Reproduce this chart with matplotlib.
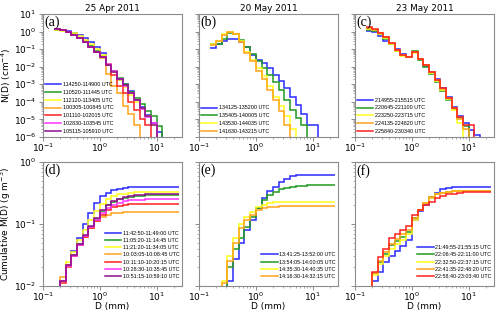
import numpy as np
import matplotlib
matplotlib.use("Agg")
import matplotlib.pyplot as plt
from matplotlib.ticker import LogLocator, NullFormatter
from matplotlib import font_manager

# ---------------- data ----------------
edges = [0.158, 0.2, 0.251, 0.316, 0.398, 0.501, 0.631, 0.794, 1.0, 1.26, 1.58,
         2.0, 2.51, 3.16, 3.98, 5.01, 6.31, 7.94, 10.0, 12.6, 15.8, 20.0, 25.1]

dates = ["25 Apr 2011", "20 May 2011", "23 May 2011"]

# (a) N(D), 25 Apr 2011
nd_a_1142 = [1.3, 1.25, 1.1, 0.85, 0.6, 0.42, 0.24, 0.13, 0.063, 0.013, 5.2e-3, 1.8e-3, 1e-3, 4e-4, 1.3e-4, 5.4e-5, 1.8e-5, 6.3e-6, 2e-6, 0, 0, 0]
nd_a_1105 = [1.3, 1.2, 0.95, 0.7, 0.45, 0.28, 0.15, 0.08, 0.04, 0.015, 6e-3, 2.2e-3, 1e-3, 3.5e-4, 1.6e-4, 8e-5, 3e-5, 1.6e-5, 4e-6, 0, 0, 0]
nd_a_1121 = [1.2, 1.15, 1.0, 0.8, 0.55, 0.35, 0.2, 0.1, 0.045, 0.015, 5e-3, 1.8e-3, 7e-4, 2.5e-4, 1e-4, 4e-5, 1.5e-5, 5e-6, 0, 0, 0, 0]
nd_a_1003 = [1.4, 1.2, 0.9, 0.65, 0.42, 0.26, 0.14, 0.07, 0.03, 4e-3, 8e-4, 3e-4, 6e-5, 2e-5, 5e-6, 0, 0, 0, 0, 0, 0, 0]
nd_a_1011 = [1.4, 1.25, 0.95, 0.65, 0.42, 0.26, 0.14, 0.07, 0.035, 0.012, 3.5e-3, 8e-4, 3e-4, 1e-4, 3.5e-5, 1e-5, 5e-6, 0, 0, 0, 0, 0]
nd_a_1028 = [1.4, 1.25, 0.95, 0.65, 0.42, 0.26, 0.14, 0.07, 0.035, 0.014, 5.5e-3, 2e-3, 8e-4, 3e-4, 1.2e-4, 4e-5, 1.3e-5, 6e-6, 0, 0, 0, 0]
nd_a_1051 = [1.45, 1.3, 1.0, 0.65, 0.42, 0.26, 0.14, 0.07, 0.035, 0.013, 5e-3, 2e-3, 9e-4, 3.2e-4, 1.2e-4, 4.5e-5, 1.6e-5, 5e-6, 0, 0, 0, 0]

# (b) N(D), 20 May 2011
nd_b_1341 = [0.11, 0.2, 0.3, 0.36, 0.36, 0.27, 0.14, 0.047, 0.025, 0.016, 8e-3, 3.5e-3, 1.6e-3, 6e-4, 2e-4, 7e-5, 2e-5, 5e-6, 5e-6, 0, 0, 0]
nd_b_1354 = [0.19, 0.2, 0.38, 0.8, 0.7, 0.35, 0.14, 0.05, 0.02, 8e-3, 3.5e-3, 1.4e-3, 5e-4, 1.3e-4, 3.5e-5, 1.2e-5, 5e-6, 0, 0, 0, 0, 0]
nd_b_1435 = [0.2, 0.3, 0.7, 1.0, 0.75, 0.3, 0.072, 0.025, 8e-3, 2.8e-3, 7.5e-4, 2e-4, 5.5e-5, 1.5e-5, 3e-6, 0, 0, 0, 0, 0, 0, 0]
nd_b_1416 = [0.17, 0.3, 0.65, 0.9, 0.7, 0.27, 0.06, 0.02, 6e-3, 2e-3, 4.5e-4, 1.2e-4, 3e-5, 5e-6, 0, 0, 0, 0, 0, 0, 0, 0]

# (c) N(D), 23 May 2011
nd_c_2149 = [1.12, 1.0, 0.55, 0.3, 0.2, 0.1, 0.05, 0.035, 0.07, 0.027, 0.011, 5e-3, 1.9e-3, 6e-4, 1.8e-4, 5e-5, 1.5e-5, 6e-6, 2.5e-6, 1.3e-6, 0, 0]
nd_c_2206 = [1.3, 1.15, 0.7, 0.4, 0.2, 0.08, 0.045, 0.034, 0.075, 0.025, 0.01, 4e-3, 1.3e-3, 4e-4, 1.3e-4, 4e-5, 1.2e-5, 4e-6, 0, 0, 0, 0]
nd_c_2232 = [1.4, 1.2, 0.75, 0.45, 0.2, 0.075, 0.04, 0.035, 0.06, 0.028, 0.012, 4.5e-3, 1.6e-3, 5e-4, 1.5e-4, 3.5e-5, 6e-6, 0, 0, 0, 0, 0]
nd_c_2241 = [1.5, 1.3, 0.8, 0.47, 0.22, 0.09, 0.045, 0.035, 0.065, 0.028, 0.012, 5e-3, 1.7e-3, 5.5e-4, 1.6e-4, 4.5e-5, 1e-5, 3e-6, 0, 0, 0, 0]
nd_c_2258 = [1.9, 1.35, 0.8, 0.47, 0.21, 0.09, 0.047, 0.035, 0.072, 0.027, 0.0125, 5.2e-3, 1.8e-3, 6.3e-4, 1.6e-4, 4.4e-5, 1.3e-5, 5e-6, 5e-6, 0, 0, 0]

# (d) cumulative M(D), 25 Apr 2011
cm_d_1142 = [0.005, 0.012, 0.022, 0.036, 0.06, 0.1, 0.15, 0.22, 0.28, 0.32, 0.35, 0.37, 0.385, 0.39, 0.395, 0.4, 0.4, 0.4, 0.4, 0.4, 0.4, 0.4]
cm_d_1105 = [0.005, 0.012, 0.022, 0.032, 0.048, 0.065, 0.09, 0.12, 0.16, 0.2, 0.23, 0.25, 0.265, 0.275, 0.28, 0.285, 0.29, 0.29, 0.29, 0.29, 0.29, 0.29]
cm_d_1121 = [0.005, 0.012, 0.024, 0.035, 0.055, 0.08, 0.115, 0.16, 0.21, 0.25, 0.28, 0.3, 0.31, 0.32, 0.325, 0.33, 0.33, 0.33, 0.33, 0.33, 0.33, 0.33]
cm_d_1003 = [0.005, 0.014, 0.022, 0.032, 0.046, 0.062, 0.085, 0.11, 0.13, 0.14, 0.148, 0.152, 0.154, 0.155, 0.155, 0.155, 0.155, 0.155, 0.155, 0.155, 0.155, 0.155]
cm_d_1011 = [0.005, 0.011, 0.02, 0.03, 0.045, 0.062, 0.085, 0.11, 0.14, 0.165, 0.185, 0.197, 0.203, 0.207, 0.21, 0.21, 0.21, 0.21, 0.21, 0.21, 0.21, 0.21]
cm_d_1028 = [0.005, 0.012, 0.021, 0.031, 0.046, 0.064, 0.088, 0.115, 0.15, 0.18, 0.205, 0.22, 0.232, 0.24, 0.245, 0.248, 0.25, 0.25, 0.25, 0.25, 0.25, 0.25]
cm_d_1051 = [0.005, 0.012, 0.022, 0.032, 0.048, 0.067, 0.093, 0.125, 0.165, 0.205, 0.235, 0.255, 0.27, 0.28, 0.29, 0.295, 0.3, 0.3, 0.3, 0.3, 0.3, 0.3]

# (e) cumulative M(D), 20 May 2011
cm_e_1341 = [0.001, 0.002, 0.004, 0.012, 0.027, 0.05, 0.08, 0.117, 0.18, 0.26, 0.34, 0.4, 0.48, 0.54, 0.59, 0.61, 0.62, 0.62, 0.62, 0.62, 0.62, 0.62]
cm_e_1354 = [0.001, 0.003, 0.007, 0.02, 0.04, 0.06, 0.09, 0.13, 0.18, 0.24, 0.29, 0.33, 0.36, 0.385, 0.4, 0.41, 0.415, 0.42, 0.42, 0.42, 0.42, 0.42]
cm_e_1435 = [0.002, 0.005, 0.012, 0.03, 0.06, 0.1, 0.13, 0.155, 0.185, 0.205, 0.215, 0.222, 0.226, 0.228, 0.23, 0.23, 0.23, 0.23, 0.23, 0.23, 0.23, 0.23]
cm_e_1416 = [0.002, 0.005, 0.011, 0.025, 0.05, 0.085, 0.115, 0.14, 0.165, 0.18, 0.187, 0.19, 0.192, 0.192, 0.192, 0.192, 0.192, 0.192, 0.192, 0.192, 0.192, 0.192]

# (f) cumulative M(D), 23 May 2011
cm_f_2149 = [0.005, 0.012, 0.017, 0.024, 0.03, 0.036, 0.044, 0.056, 0.118, 0.16, 0.205, 0.26, 0.32, 0.36, 0.38, 0.39, 0.39, 0.39, 0.39, 0.39, 0.39, 0.39]
cm_f_2206 = [0.005, 0.016, 0.024, 0.033, 0.045, 0.053, 0.062, 0.075, 0.125, 0.17, 0.22, 0.27, 0.3, 0.32, 0.33, 0.34, 0.34, 0.34, 0.34, 0.34, 0.34, 0.34]
cm_f_2232 = [0.005, 0.015, 0.023, 0.03, 0.04, 0.048, 0.056, 0.068, 0.115, 0.165, 0.215, 0.265, 0.3, 0.32, 0.33, 0.335, 0.34, 0.34, 0.34, 0.34, 0.34, 0.34]
cm_f_2241 = [0.005, 0.016, 0.025, 0.035, 0.048, 0.058, 0.068, 0.08, 0.125, 0.17, 0.22, 0.27, 0.3, 0.32, 0.33, 0.335, 0.34, 0.34, 0.34, 0.34, 0.34, 0.34]
cm_f_2258 = [0.005, 0.017, 0.029, 0.039, 0.06, 0.07, 0.08, 0.092, 0.14, 0.17, 0.2, 0.23, 0.26, 0.28, 0.3, 0.31, 0.32, 0.325, 0.33, 0.33, 0.33, 0.33]

labels_a = ["114250-114900 UTC", "110520-111445 UTC", "112120-113405 UTC", "100305-100845 UTC",
            "101110-102015 UTC", "102830-103545 UTC", "105115-105910 UTC"]
labels_b = ["134125-135200 UTC", "135405-140005 UTC", "143530-144035 UTC", "141630-143215 UTC"]
labels_c = ["214955-215515 UTC", "220645-221100 UTC", "223250-223715 UTC", "224135-224820 UTC", "225840-230340 UTC"]
labels_d = ["11:42:50-11:49:00 UTC", "11:05:20-11:14:45 UTC", "11:21:20-11:34:05 UTC", "10:03:05-10:08:45 UTC",
            "10:11:10-10:20:15 UTC", "10:28:30-10:35:45 UTC", "10:51:15-10:59:10 UTC"]
labels_e = ["13:41:25-13:52:00 UTC", "13:54:05-14:00:05 UTC", "14:35:30-14:40:35 UTC", "14:16:30-14:32:15 UTC"]
labels_f = ["21:49:55-21:55:15 UTC", "22:06:45-22:11:00 UTC", "22:32:50-22:37:15 UTC", "22:41:35-22:48:20 UTC", "22:58:40-23:03:40 UTC"]

colors7 = ["#2a2aff", "#1f9a1f", "#ffff1a", "#ffa31a", "#ff2020", "#ff33ff", "#8b108b"]

panels_top = [
    ([nd_a_1142, nd_a_1105, nd_a_1121, nd_a_1003, nd_a_1011, nd_a_1028, nd_a_1051], labels_a),
    ([nd_b_1341, nd_b_1354, nd_b_1435, nd_b_1416], labels_b),
    ([nd_c_2149, nd_c_2206, nd_c_2232, nd_c_2241, nd_c_2258], labels_c),
]
panels_bot = [
    ([cm_d_1142, cm_d_1105, cm_d_1121, cm_d_1003, cm_d_1011, cm_d_1028, cm_d_1051], labels_d),
    ([cm_e_1341, cm_e_1354, cm_e_1435, cm_e_1416], labels_e),
    ([cm_f_2149, cm_f_2206, cm_f_2232, cm_f_2241, cm_f_2258], labels_f),
]
tags_top = ["(a)", "(b)", "(c)"]
tags_bot = ["(d)", "(e)", "(f)"]

# ---------------- figure ----------------
fig = plt.figure(figsize=(5.0, 3.14), dpi=100)
lefts = [0.086, 0.398, 0.71]
w = 0.278
spine_c = "0.55"
FS = 6.5

available = {f.name for f in font_manager.fontManager.ttflist}
leg_font = {"family": "DejaVu Sans", "size": 3.6}
for name, size in [("Liberation Sans Narrow", 4.3), ("DejaVu Sans Condensed", 4.0),
                   ("Liberation Sans", 3.9)]:
    if name in available:
        leg_font = {"family": name, "size": size}
        break


def style(ax, ylim, ylabels):
    ax.set_xscale("log")
    ax.set_yscale("log", nonpositive="clip")
    ax.set_xlim(0.1, 28)
    ax.set_ylim(*ylim)
    ax.xaxis.set_major_locator(LogLocator(base=10, numticks=20))
    ax.xaxis.set_minor_locator(LogLocator(base=10, subs=np.arange(2, 10), numticks=20))
    ax.yaxis.set_major_locator(LogLocator(base=10, numticks=20))
    ax.yaxis.set_minor_locator(LogLocator(base=10, subs=np.arange(2, 10), numticks=20))
    ax.xaxis.set_minor_formatter(NullFormatter())
    ax.yaxis.set_minor_formatter(NullFormatter())
    for s in ax.spines.values():
        s.set_color(spine_c)
        s.set_linewidth(0.8)
    ax.tick_params(which="both", colors=spine_c, labelcolor="black", labelsize=FS)
    ax.tick_params(axis="x", pad=0.5)
    ax.tick_params(axis="y", pad=2)
    ax.tick_params(which="major", length=3, width=0.7)
    ax.tick_params(which="minor", length=1.7, width=0.5)
    if not ylabels:
        ax.tick_params(axis="y", labelleft=False)


for k in range(3):
    ax = fig.add_axes([lefts[k], 0.5637, w, 0.3917])
    series, labs = panels_top[k]
    for j, vals in enumerate(series):
        ax.stairs(vals, edges, baseline=None, color=colors7[j], lw=1.1, label=labs[j])
    style(ax, (1e-6, 10), k == 0)
    ax.set_title(dates[k], fontsize=6.4, pad=2.5)
    ax.text(0.01, 0.985, tags_top[k], transform=ax.transAxes, va="top", ha="left",
            fontsize=10, family="Liberation Serif")
    ax.legend(loc="lower left", bbox_to_anchor=(0.0, 0.01), prop=leg_font, frameon=False,
              handlelength=3.0, labelspacing=0.5, borderaxespad=0.2, handletextpad=0.3,
              borderpad=0.2)
    if k == 0:
        ax.set_ylabel("N(D) (cm$^{-4}$)", fontsize=FS)
        ax.yaxis.set_label_coords(-0.215, 0.5)

for k in range(3):
    ax = fig.add_axes([lefts[k], 0.0892, w, 0.395])
    series, labs = panels_bot[k]
    for j, vals in enumerate(series):
        ax.stairs(vals, edges, baseline=None, color=colors7[j], lw=1.1, label=labs[j])
    style(ax, (1e-2, 1), k == 0)
    ax.set_xlabel("D (mm)", fontsize=FS)
    ax.xaxis.set_label_coords(0.5, -0.13)
    ax.text(0.01, 0.985, tags_bot[k], transform=ax.transAxes, va="top", ha="left",
            fontsize=10, family="Liberation Serif")
    ax.legend(loc="lower right", bbox_to_anchor=(1.0, 0.04), prop=leg_font, frameon=False,
              handlelength=3.0, labelspacing=0.4, borderaxespad=0.2, handletextpad=0.3,
              borderpad=0.2)
    if k == 0:
        ax.set_ylabel("Cumulative M(D) (g m$^{-3}$)", fontsize=FS)
        ax.yaxis.set_label_coords(-0.215, 0.5)

fig.savefig("out.png", dpi=100)
